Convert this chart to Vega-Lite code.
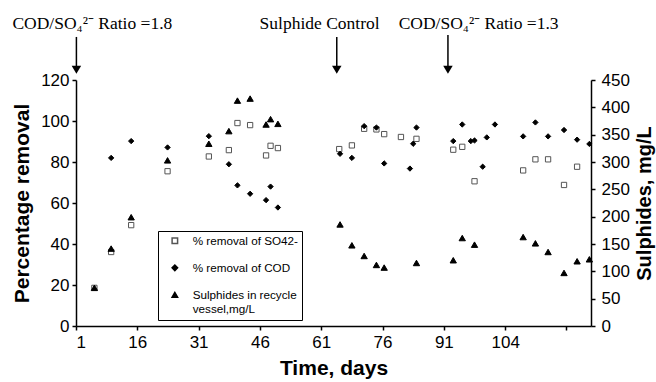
{
  "$schema": "https://vega.github.io/schema/vega-lite/v6.json",
  "width": 515,
  "height": 246,
  "autosize": {"type": "none"},
  "padding": {"left": 76, "top": 80, "right": 65, "bottom": 56},
  "background": "white",
  "config": {
    "view": {"stroke": null},
    "font": "Liberation Sans",
    "axis": {
      "grid": false,
      "domainColor": "black",
      "domainWidth": 1.5,
      "tickColor": "black",
      "tickWidth": 1.5,
      "tickSize": 4,
      "labelFont": "Liberation Sans",
      "labelFontSize": 17,
      "labelColor": "black",
      "titleFont": "Liberation Sans",
      "titleFontSize": 21,
      "titleFontWeight": "bold",
      "titleColor": "black"
    },
    "legend": {
      "labelFont": "Liberation Sans",
      "labelFontSize": 11.7,
      "labelColor": "black"
    }
  },
  "datasets": {
    "points": [
      {"series": "% removal of SO42-", "day": 5.5, "value": 18.6},
      {"series": "% removal of SO42-", "day": 9.6, "value": 36.1},
      {"series": "% removal of SO42-", "day": 14.5, "value": 49.2},
      {"series": "% removal of SO42-", "day": 23.4, "value": 75.5},
      {"series": "% removal of SO42-", "day": 33.5, "value": 82.7},
      {"series": "% removal of SO42-", "day": 38.4, "value": 85.8},
      {"series": "% removal of SO42-", "day": 40.5, "value": 99.0},
      {"series": "% removal of SO42-", "day": 43.6, "value": 98.0},
      {"series": "% removal of SO42-", "day": 47.5, "value": 83.2},
      {"series": "% removal of SO42-", "day": 48.6, "value": 87.9},
      {"series": "% removal of SO42-", "day": 50.4, "value": 86.8},
      {"series": "% removal of SO42-", "day": 65.4, "value": 86.3},
      {"series": "% removal of SO42-", "day": 68.5, "value": 88.1},
      {"series": "% removal of SO42-", "day": 71.5, "value": 96.2},
      {"series": "% removal of SO42-", "day": 74.5, "value": 95.9},
      {"series": "% removal of SO42-", "day": 76.4, "value": 93.6},
      {"series": "% removal of SO42-", "day": 80.5, "value": 92.2},
      {"series": "% removal of SO42-", "day": 84.3, "value": 91.3},
      {"series": "% removal of SO42-", "day": 93.3, "value": 86.0},
      {"series": "% removal of SO42-", "day": 95.5, "value": 87.4},
      {"series": "% removal of SO42-", "day": 98.5, "value": 70.6},
      {"series": "% removal of SO42-", "day": 110.4, "value": 75.9},
      {"series": "% removal of SO42-", "day": 113.4, "value": 81.3},
      {"series": "% removal of SO42-", "day": 116.5, "value": 81.3},
      {"series": "% removal of SO42-", "day": 120.4, "value": 68.8},
      {"series": "% removal of SO42-", "day": 123.6, "value": 77.7},
      {"series": "% removal of COD", "day": 9.6, "value": 82.0},
      {"series": "% removal of COD", "day": 14.5, "value": 90.2},
      {"series": "% removal of COD", "day": 23.4, "value": 87.1},
      {"series": "% removal of COD", "day": 33.5, "value": 92.6},
      {"series": "% removal of COD", "day": 38.4, "value": 78.9},
      {"series": "% removal of COD", "day": 40.5, "value": 68.6},
      {"series": "% removal of COD", "day": 43.6, "value": 64.5},
      {"series": "% removal of COD", "day": 47.5, "value": 61.4},
      {"series": "% removal of COD", "day": 48.6, "value": 68.0},
      {"series": "% removal of COD", "day": 50.4, "value": 57.8},
      {"series": "% removal of COD", "day": 65.6, "value": 84.0},
      {"series": "% removal of COD", "day": 68.5, "value": 82.0},
      {"series": "% removal of COD", "day": 71.5, "value": 97.5},
      {"series": "% removal of COD", "day": 74.5, "value": 96.8},
      {"series": "% removal of COD", "day": 76.4, "value": 79.3},
      {"series": "% removal of COD", "day": 82.7, "value": 76.8},
      {"series": "% removal of COD", "day": 83.5, "value": 88.9},
      {"series": "% removal of COD", "day": 84.3, "value": 96.8},
      {"series": "% removal of COD", "day": 93.3, "value": 90.2},
      {"series": "% removal of COD", "day": 95.5, "value": 98.3},
      {"series": "% removal of COD", "day": 97.6, "value": 90.2},
      {"series": "% removal of COD", "day": 98.5, "value": 90.5},
      {"series": "% removal of COD", "day": 100.5, "value": 77.7},
      {"series": "% removal of COD", "day": 101.5, "value": 92.0},
      {"series": "% removal of COD", "day": 103.5, "value": 98.3},
      {"series": "% removal of COD", "day": 110.4, "value": 92.5},
      {"series": "% removal of COD", "day": 113.4, "value": 99.3},
      {"series": "% removal of COD", "day": 116.5, "value": 92.5},
      {"series": "% removal of COD", "day": 120.4, "value": 95.6},
      {"series": "% removal of COD", "day": 123.6, "value": 90.9},
      {"series": "% removal of COD", "day": 126.6, "value": 88.8}
    ],
    "sulphides": [
      {"series": "Sulphides in recycle vessel,mg/L", "day": 5.5, "value": 69.8},
      {"series": "Sulphides in recycle vessel,mg/L", "day": 9.6, "value": 141.6},
      {"series": "Sulphides in recycle vessel,mg/L", "day": 14.5, "value": 199},
      {"series": "Sulphides in recycle vessel,mg/L", "day": 23.4, "value": 303},
      {"series": "Sulphides in recycle vessel,mg/L", "day": 33.5, "value": 333.4},
      {"series": "Sulphides in recycle vessel,mg/L", "day": 38.4, "value": 356.5},
      {"series": "Sulphides in recycle vessel,mg/L", "day": 40.5, "value": 412.3},
      {"series": "Sulphides in recycle vessel,mg/L", "day": 43.6, "value": 416},
      {"series": "Sulphides in recycle vessel,mg/L", "day": 47.5, "value": 368.6},
      {"series": "Sulphides in recycle vessel,mg/L", "day": 48.6, "value": 378.4},
      {"series": "Sulphides in recycle vessel,mg/L", "day": 50.4, "value": 369.8},
      {"series": "Sulphides in recycle vessel,mg/L", "day": 65.6, "value": 185.8},
      {"series": "Sulphides in recycle vessel,mg/L", "day": 68.5, "value": 147.6},
      {"series": "Sulphides in recycle vessel,mg/L", "day": 71.5, "value": 128.1},
      {"series": "Sulphides in recycle vessel,mg/L", "day": 74.5, "value": 111.7},
      {"series": "Sulphides in recycle vessel,mg/L", "day": 76.4, "value": 106.9},
      {"series": "Sulphides in recycle vessel,mg/L", "day": 84.3, "value": 115.3},
      {"series": "Sulphides in recycle vessel,mg/L", "day": 93.3, "value": 120.3},
      {"series": "Sulphides in recycle vessel,mg/L", "day": 95.5, "value": 160.9},
      {"series": "Sulphides in recycle vessel,mg/L", "day": 98.5, "value": 148.8},
      {"series": "Sulphides in recycle vessel,mg/L", "day": 110.4, "value": 162.7},
      {"series": "Sulphides in recycle vessel,mg/L", "day": 113.4, "value": 151.2},
      {"series": "Sulphides in recycle vessel,mg/L", "day": 116.5, "value": 135.4},
      {"series": "Sulphides in recycle vessel,mg/L", "day": 120.4, "value": 97.1},
      {"series": "Sulphides in recycle vessel,mg/L", "day": 123.6, "value": 118.4},
      {"series": "Sulphides in recycle vessel,mg/L", "day": 126.6, "value": 122}
    ],
    "notes": [
      {"day": 5.0, "value": 145.0, "label": "COD/SO₄²⁻ Ratio =1.8"},
      {"day": 60.6, "value": 145.0, "label": "Sulphide Control"},
      {"day": 99.5, "value": 145.0, "label": "COD/SO₄²⁻ Ratio =1.3"}
    ],
    "arrows": [
      {"day": 1.1, "value": 141, "value2": 125},
      {"day": 64.8, "value": 141, "value2": 125},
      {"day": 92.0, "value": 142, "value2": 125}
    ]
  },
  "encoding": {
    "x": {
      "field": "day",
      "type": "quantitative",
      "scale": {"domain": [1, 127], "nice": false, "zero": false},
      "axis": {
        "title": "Time, days",
        "values": [1, 16, 31, 46, 61, 76, 91, 106, 121],
        "labelExpr": "datum.value == 106 ? '104' : (datum.value == 121 ? '' : datum.label)",
        "labelPadding": 4,
        "titlePadding": 7
      }
    }
  },
  "layer": [
    {
      "layer": [
        {
          "data": {"name": "points"},
          "mark": {"type": "point", "filled": true, "strokeWidth": 1, "opacity": 1},
          "encoding": {
            "y": {
              "field": "value",
              "type": "quantitative",
              "scale": {"domain": [0, 120], "nice": false},
              "axis": {
                "title": "Percentage removal",
                "values": [0, 20, 40, 60, 80, 100, 120],
                "labelPadding": 3,
                "titlePadding": 8
              }
            },
            "shape": {
              "field": "series",
              "type": "nominal",
              "scale": {"domain": ["% removal of SO42-", "% removal of COD", "Sulphides in recycle vessel,mg/L"], "range": ["square", "diamond", "triangle-up"]},
              "legend": {"title": null, "orient": "none", "legendX": 82, "legendY": 151, "strokeColor": "black", "fillColor": "white", "padding": 4, "symbolOffset": 7, "labelOffset": 12, "labelLimit": 108, "rowPadding": 14, "symbolSize": 30, "labelExpr": "datum.label == 'Sulphides in recycle vessel,mg/L' ? ['Sulphides in recycle', 'vessel,mg/L'] : datum.label"}
            },
            "fill": {
              "field": "series",
              "type": "nominal",
              "scale": {"domain": ["% removal of SO42-", "% removal of COD", "Sulphides in recycle vessel,mg/L"], "range": ["white", "black", "black"]},
              "legend": {"title": null, "orient": "none", "legendX": 82, "legendY": 151, "strokeColor": "black", "fillColor": "white", "padding": 4, "symbolOffset": 7, "labelOffset": 12, "labelLimit": 108, "rowPadding": 14, "symbolSize": 30, "labelExpr": "datum.label == 'Sulphides in recycle vessel,mg/L' ? ['Sulphides in recycle', 'vessel,mg/L'] : datum.label"}
            },
            "stroke": {
              "field": "series",
              "type": "nominal",
              "scale": {"domain": ["% removal of SO42-", "% removal of COD", "Sulphides in recycle vessel,mg/L"], "range": ["#555555", "black", "black"]},
              "legend": {"title": null, "orient": "none", "legendX": 82, "legendY": 151, "strokeColor": "black", "fillColor": "white", "padding": 4, "symbolOffset": 7, "labelOffset": 12, "labelLimit": 108, "rowPadding": 14, "symbolSize": 30, "labelExpr": "datum.label == 'Sulphides in recycle vessel,mg/L' ? ['Sulphides in recycle', 'vessel,mg/L'] : datum.label"}
            },
            "size": {"value": 28}
          }
        },
        {
          "data": {"name": "notes"},
          "mark": {"type": "text", "font": "Liberation Serif", "fontSize": 17.5, "align": "center", "baseline": "alphabetic", "color": "black"},
          "encoding": {
            "y": {"field": "value", "type": "quantitative"},
            "text": {"field": "label"}
          }
        },
        {
          "data": {"name": "arrows"},
          "mark": {"type": "rule", "color": "black", "strokeWidth": 1.5},
          "encoding": {
            "y": {"field": "value", "type": "quantitative"},
            "y2": {"field": "value2"}
          }
        },
        {
          "data": {"name": "arrows"},
          "mark": {"type": "point", "shape": "triangle-down", "filled": true, "color": "black", "size": 90, "opacity": 1},
          "encoding": {
            "y": {"field": "value2", "type": "quantitative"}
          }
        }
      ]
    },
    {
      "data": {"name": "sulphides"},
      "mark": {"type": "point", "filled": true, "strokeWidth": 1, "opacity": 1},
      "encoding": {
        "y": {
          "field": "value",
          "type": "quantitative",
          "scale": {"domain": [0, 450], "nice": false},
          "axis": {
            "orient": "right",
            "title": "Sulphides, mg/L",
            "values": [0, 50, 100, 150, 200, 250, 300, 350, 400, 450],
            "labelPadding": 6,
            "titlePadding": 25,
            "titleFontSize": 20,
            "titleAngle": 270
          }
        },
        "shape": {
          "field": "series",
          "type": "nominal",
          "scale": {"domain": ["% removal of SO42-", "% removal of COD", "Sulphides in recycle vessel,mg/L"], "range": ["square", "diamond", "triangle-up"]},
          "legend": {"title": null, "orient": "none", "legendX": 82, "legendY": 151, "strokeColor": "black", "fillColor": "white", "padding": 4, "symbolOffset": 7, "labelOffset": 12, "labelLimit": 108, "rowPadding": 14, "symbolSize": 30, "labelExpr": "datum.label == 'Sulphides in recycle vessel,mg/L' ? ['Sulphides in recycle', 'vessel,mg/L'] : datum.label"}
        },
        "fill": {
          "field": "series",
          "type": "nominal",
          "scale": {"domain": ["% removal of SO42-", "% removal of COD", "Sulphides in recycle vessel,mg/L"], "range": ["white", "black", "black"]},
          "legend": {"title": null, "orient": "none", "legendX": 82, "legendY": 151, "strokeColor": "black", "fillColor": "white", "padding": 4, "symbolOffset": 7, "labelOffset": 12, "labelLimit": 108, "rowPadding": 14, "symbolSize": 30, "labelExpr": "datum.label == 'Sulphides in recycle vessel,mg/L' ? ['Sulphides in recycle', 'vessel,mg/L'] : datum.label"}
        },
        "stroke": {
          "field": "series",
          "type": "nominal",
          "scale": {"domain": ["% removal of SO42-", "% removal of COD", "Sulphides in recycle vessel,mg/L"], "range": ["#555555", "black", "black"]},
          "legend": {"title": null, "orient": "none", "legendX": 82, "legendY": 151, "strokeColor": "black", "fillColor": "white", "padding": 4, "symbolOffset": 7, "labelOffset": 12, "labelLimit": 108, "rowPadding": 14, "symbolSize": 30, "labelExpr": "datum.label == 'Sulphides in recycle vessel,mg/L' ? ['Sulphides in recycle', 'vessel,mg/L'] : datum.label"}
        },
        "size": {"value": 40}
      }
    }
  ],
  "resolve": {"scale": {"y": "independent"}}
}
